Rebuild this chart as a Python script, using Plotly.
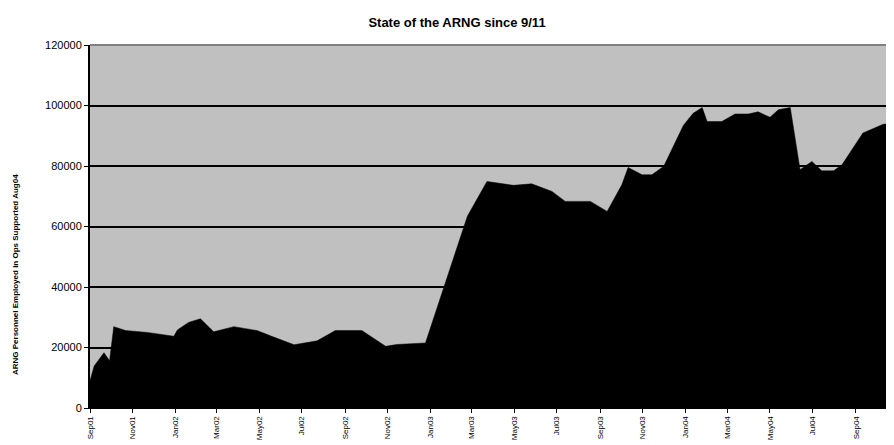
import plotly.graph_objects as go

dates = ["2001-09-11","2001-09-17","2001-10-01","2001-10-09","2001-10-15","2001-11-01",
         "2001-12-02","2002-01-09","2002-01-14","2002-01-30","2002-02-16","2002-03-07",
         "2002-04-05","2002-05-08","2002-05-30","2002-06-30","2002-08-02","2002-08-28",
         "2002-10-05","2002-11-08","2002-11-24","2003-01-04","2003-03-05","2003-04-02",
         "2003-05-10","2003-06-05","2003-07-04","2003-07-23","2003-08-28","2003-09-21",
         "2003-10-12","2003-10-21","2003-11-10","2003-11-24","2003-12-11","2004-01-08",
         "2004-01-22","2004-02-04","2004-02-11","2004-03-03","2004-03-22","2004-04-10",
         "2004-04-24","2004-05-11","2004-05-23","2004-06-09","2004-06-23","2004-07-10",
         "2004-07-24","2004-08-10","2004-08-22","2004-09-07","2004-09-21","2004-10-20",
         "2004-11-04"]
personnel = [9000,13900,18300,15600,26900,25600,
             25000,23700,25800,28300,29500,25200,
             26900,25600,23600,20900,22200,25600,
             25600,20400,21000,21500,63400,74900,
             73600,74100,71600,68300,68300,65000,
             73800,79500,77100,77100,79900,93400,
             97400,99300,94700,94700,97200,97200,
             97900,96100,98600,99300,78800,81500,
             78400,78400,80400,85900,90900,93800,
             94100]

tick_dates = ["2001-09-11","2001-11-11","2002-01-11","2002-03-11","2002-05-11","2002-07-11",
              "2002-09-11","2002-11-11","2003-01-11","2003-03-11","2003-05-11","2003-07-11",
              "2003-09-11","2003-11-11","2004-01-11","2004-03-11","2004-05-11","2004-07-11",
              "2004-09-11"]
tick_labels = ["Sep01","Nov01","Jan02","Mar02","May02","Jul02","Sep02","Nov02","Jan03",
               "Mar03","May03","Jul03","Sep03","Nov03","Jan04","Mar04","May04","Jul04","Sep04"]

W, H = 878, 437
L, R, T, B = 82, 0, 37, 37
PW, PH = W - L - R, H - T - B

fig = go.Figure()
fig.add_trace(go.Scatter(
    x=dates, y=personnel, mode="lines", fill="tozeroy",
    fillcolor="black", line=dict(color="black", width=0.5),
    hoverinfo="x+y", showlegend=False))

fig.update_layout(
    width=W, height=H, autosize=False,
    margin=dict(l=L, r=R, t=T, b=B, autoexpand=False),
    paper_bgcolor="white", plot_bgcolor="#C0C0C0",
    font=dict(family="Liberation Sans, Arial, sans-serif", color="black"),
    title=dict(text="<b>State of the ARNG since 9/11</b>", x=449 / W, xanchor="center",
               yref="container", y=1 - 14 / H, yanchor="middle",
               font=dict(size=13, color="black")),
    xaxis=dict(type="date", range=["2001-09-11", "2004-10-24"], automargin=False,
               tickmode="array", tickvals=tick_dates, ticktext=tick_labels,
               tickangle=-90, tickfont=dict(size=8), ticks="outside", ticklen=4,
               tickcolor="black", showgrid=False, showline=True, linecolor="black",
               linewidth=1, zeroline=False),
    yaxis=dict(range=[0, 120000], automargin=False,
               tickvals=[0,20000,40000,60000,80000,100000,120000],
               ticktext=["0","20000","40000","60000","80000","100000","120000"],
               tickfont=dict(size=11), ticks="outside", ticklen=4, tickcolor="black",
               showgrid=True, gridcolor="black", gridwidth=2,
               showline=True, linecolor="black", linewidth=2, zeroline=False),
)
fig.add_annotation(text="<b>ARNG Personnel Employed in Ops Supported Aug04</b>",
                   xref="paper", yref="paper", x=(7 - L) / PW, y=1 - (267 - T) / PH,
                   xanchor="center", yanchor="middle", textangle=-90,
                   showarrow=False, font=dict(size=8, color="black"))
fig.add_shape(type="line", xref="paper", yref="paper", x0=0, x1=1, y0=1, y1=1,
              line=dict(color="#808080", width=2))

fig.write_html("out.html", config={"responsive": False})
